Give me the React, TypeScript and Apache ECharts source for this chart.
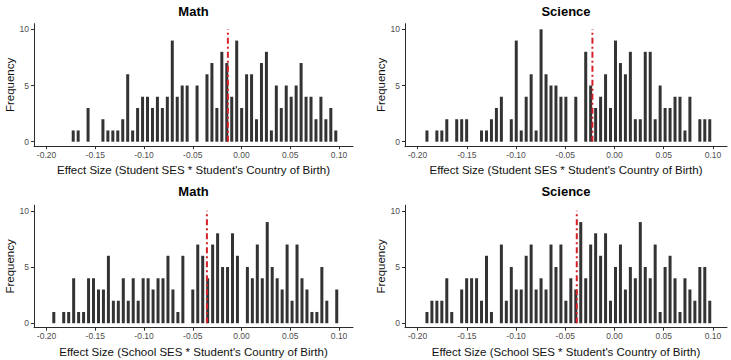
import React, { useEffect, useRef } from "react";
import * as echarts from "echarts";

// Histogram counts per bin (left to right), one array per panel
const mathStudentCounts = [1, 1, 0, 3, 0, 0, 2, 1, 1, 1, 2, 6, 1, 3, 4, 4, 3, 4, 3, 4, 9, 4, 5, 5, 0, 5, 0, 6, 7, 3, 8, 7, 4, 9, 3, 6, 6, 2, 7, 8, 1, 5, 3, 5, 4, 5, 7, 4, 4, 2, 4, 2, 3, 1];
const scienceStudentCounts = [1, 0, 1, 1, 2, 0, 2, 2, 2, 0, 0, 1, 1, 2, 3, 4, 0, 2, 9, 1, 4, 6, 1, 10, 6, 5, 5, 4, 4, 0, 4, 0, 8, 5, 3, 4, 6, 3, 9, 7, 6, 8, 2, 2, 8, 8, 2, 5, 3, 3, 4, 4, 1, 4, 0, 2, 2, 2];
const mathSchoolCounts = [1, 0, 1, 1, 4, 1, 1, 4, 4, 3, 3, 6, 2, 2, 4, 2, 4, 2, 4, 4, 3, 4, 4, 6, 3, 1, 6, 0, 3, 7, 6, 4, 7, 8, 5, 5, 8, 6, 0, 5, 4, 7, 4, 9, 5, 4, 3, 7, 2, 7, 4, 3, 1, 1, 5, 2, 0, 3];
const scienceSchoolCounts = [1, 2, 2, 2, 4, 1, 0, 3, 4, 4, 4, 2, 6, 1, 0, 7, 2, 5, 3, 3, 6, 7, 3, 4, 3, 7, 5, 7, 2, 4, 3, 9, 4, 7, 8, 6, 8, 2, 5, 7, 3, 5, 4, 9, 5, 4, 7, 1, 5, 6, 4, 1, 4, 3, 2, 5, 5, 2];

// Centre of the first bin and bin width for each panel
const binStarts = [-0.1726, -0.1905, -0.1925, -0.1905];
const binWidths = [0.00508, 0.00504, 0.00509, 0.00504];

// Mean effect size (red dash-dot line) per panel
const meanEffects = [-0.0140, -0.0224, -0.0355, -0.0383];

const panelTitles = ["Math", "Science", "Math", "Science"];
const xAxisTitles = [
  "Effect Size (Student SES * Student's Country of Birth)",
  "Effect Size (Student SES * Student's Country of Birth)",
  "Effect Size (School SES * Student's Country of Birth)",
  "Effect Size (School SES * Student's Country of Birth)",
];
const xTickValues = [-0.2, -0.15, -0.1, -0.05, 0, 0.05, 0.1];
const yTickValues = [0, 5, 10];
const meanLineTop = 10;

const FONT = '"Liberation Sans", Arial, Helvetica, sans-serif';
const BAR_COLOR = "#333333";
const AXIS_COLOR = "#2b2b2b";
const TICK_TEXT = "#4d4d4d";
const RED = "#d41f26";

const X_MIN = -0.2128;
const X_MAX = 0.1143;
const Y_MIN = -0.4;
const Y_MAX = 10.5;

const grids = [
  { left: 34, top: 23.7, width: 319, height: 122.5 },
  { left: 405, top: 23.7, width: 322, height: 122.5 },
  { left: 34, top: 205.2, width: 319, height: 122.5 },
  { left: 405, top: 205.2, width: 322, height: 122.5 },
];

const allCounts = [mathStudentCounts, scienceStudentCounts, mathSchoolCounts, scienceSchoolCounts];

function histogramPoints(start: number, width: number, counts: number[]) {
  return counts
    .map((c, i) => [start + i * width, c])
    .filter((p) => p[1] > 0);
}

export default function App() {
  const ref = useRef<HTMLDivElement>(null);

  useEffect(() => {
    if (!ref.current) return;
    const chart = echarts.init(ref.current, undefined, { renderer: "svg" });

    const xAxis = grids.map((_, i) => ({
      type: "value",
      gridIndex: i,
      min: X_MIN,
      max: X_MAX,
      axisLine: { show: true, onZero: false, lineStyle: { color: AXIS_COLOR, width: 1 } },
      axisTick: { show: true, length: 3, customValues: xTickValues, lineStyle: { color: AXIS_COLOR, width: 1 } },
      axisLabel: {
        customValues: xTickValues,
        formatter: (v: number) => v.toFixed(2),
        fontSize: 8.5,
        color: TICK_TEXT,
        margin: 4,
        fontFamily: FONT,
      },
      splitLine: { show: false },
      name: xAxisTitles[i],
      nameLocation: "middle",
      nameGap: 18,
      nameTextStyle: { fontSize: 11.5, color: "#111", fontFamily: FONT },
    }));

    const yAxis = grids.map((_, i) => ({
      type: "value",
      gridIndex: i,
      min: Y_MIN,
      max: Y_MAX,
      axisLine: { show: true, onZero: false, lineStyle: { color: AXIS_COLOR, width: 1 } },
      axisTick: { show: true, length: 3, customValues: yTickValues, lineStyle: { color: AXIS_COLOR, width: 1 } },
      axisLabel: {
        customValues: yTickValues,
        fontSize: 8.5,
        color: TICK_TEXT,
        margin: 5,
        fontFamily: FONT,
      },
      splitLine: { show: false },
      name: "Frequency",
      nameLocation: "middle",
      nameRotate: 90,
      nameGap: 18,
      nameTextStyle: { fontSize: 11.5, color: "#111", fontFamily: FONT },
    }));

    const series: any[] = [];
    allCounts.forEach((counts, i) => {
      series.push({
        type: "bar",
        xAxisIndex: i,
        yAxisIndex: i,
        barWidth: 3,
        itemStyle: { color: BAR_COLOR },
        data: histogramPoints(binStarts[i], binWidths[i], counts),
        silent: true,
      });
      series.push({
        type: "line",
        xAxisIndex: i,
        yAxisIndex: i,
        symbol: "none",
        z: 5,
        lineStyle: { color: RED, width: 2, type: [6, 3, 2, 3] },
        data: [
          [meanEffects[i], 0],
          [meanEffects[i], meanLineTop],
        ],
        silent: true,
      });
    });

    const graphic = grids.map((g, i) => ({
      type: "text",
      x: g.left + g.width / 2,
      y: i < 2 ? 11 : 191.7,
      style: {
        text: panelTitles[i],
        fill: "#000",
        fontSize: 13,
        fontWeight: "bold",
        fontFamily: FONT,
        align: "center",
        verticalAlign: "middle",
      },
    }));

    chart.setOption({
      animation: false,
      backgroundColor: "#ffffff",
      grid: grids.map((g) => ({ ...g, containLabel: false })),
      xAxis,
      yAxis,
      series,
      graphic,
    });

    return () => chart.dispose();
  }, []);

  return (
    <div
      ref={ref}
      style={{ position: "absolute", left: 0, top: 0, width: 731, height: 360 }}
    />
  );
}
